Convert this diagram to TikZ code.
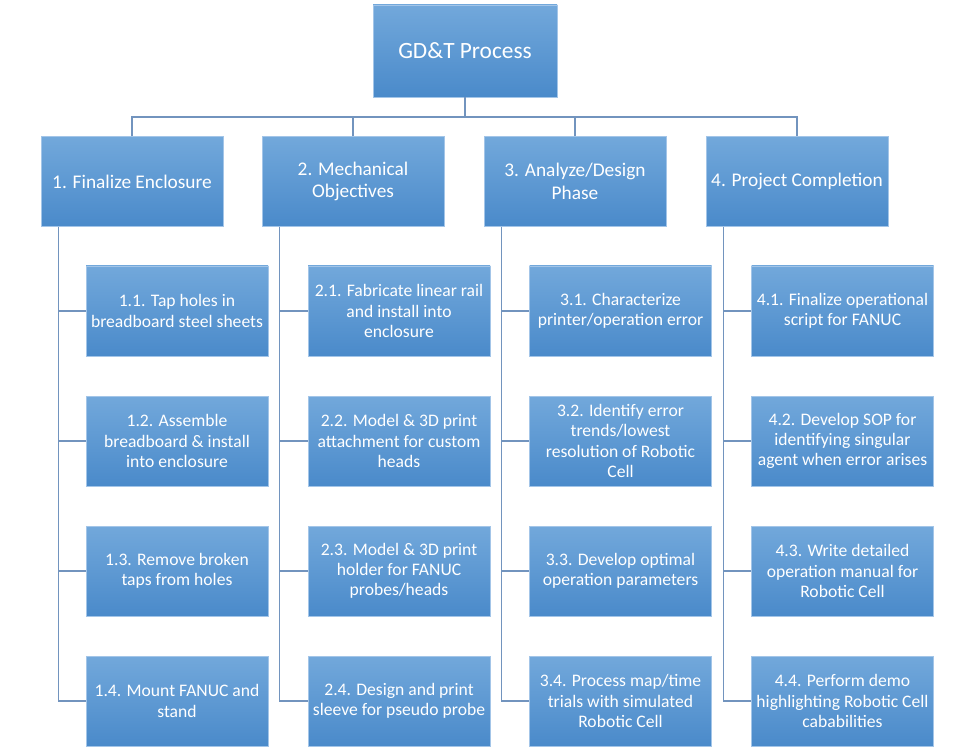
\documentclass[tikz,border=0pt]{standalone}
\usepackage{fontspec}
\setmainfont{Carlito}
\usetikzlibrary{calc}
\definecolor{boxtop}{HTML}{72A8DB}
\definecolor{boxbot}{HTML}{4A8ACA}
\definecolor{boxedge}{HTML}{A3C5E8}
\definecolor{linkc}{HTML}{7294BE}
\tikzset{
  box/.style={draw=boxedge, line width=0.6pt, top color=boxtop, bottom color=boxbot,
    text=white, align=center, inner sep=1pt},
  topbox/.style={box, minimum width=138pt, minimum height=69pt, font=\fontsize{17.5}{21}\selectfont},
  lvlbox/.style={box, minimum width=136.5pt, minimum height=67pt, font=\fontsize{14.5}{17}\selectfont},
  subbox/.style={box, minimum width=136.5pt, minimum height=67.5pt, font=\fontsize{13.2}{15.2}\selectfont},
  link/.style={draw=linkc, line width=1.2pt},
}
\begin{document}
\begin{tikzpicture}[x=0.75pt,y=-0.75pt]
\useasboundingbox (0,0) rectangle (956,755);
\node[topbox] (top) at (465,51) {GD\&T Process};
\node[lvlbox] (l1) at (132,181.5) {1. Finalize Enclosure};
\node[lvlbox] (l2) at (353,181.5) {2. Mechanical\\Objectives};
\node[lvlbox] (l3) at (575,181.5) {3. Analyze/Design\\Phase};
\node[lvlbox] (l4) at (797,181.5) {4. Project Completion};

\node[subbox] (c11) at (177,311) {1.1. Tap holes in\\breadboard steel sheets};
\node[subbox] (c12) at (177,441) {1.2. Assemble\\breadboard \& install\\into enclosure};
\node[subbox] (c13) at (177,571) {1.3. Remove broken\\taps from holes};
\node[subbox] (c14) at (177,701) {1.4. Mount FANUC and\\stand};

\node[subbox] (c21) at (399,311) {2.1. Fabricate linear rail\\and install into\\enclosure};
\node[subbox] (c22) at (399,441) {2.2. Model \& 3D print\\attachment for custom\\heads};
\node[subbox] (c23) at (399,571) {2.3. Model \& 3D print\\holder for FANUC\\probes/heads};
\node[subbox] (c24) at (399,701) {2.4. Design and print\\sleeve for pseudo probe};

\node[subbox] (c31) at (620.5,311) {3.1. Characterize\\printer/operation error};
\node[subbox] (c32) at (620.5,441) {3.2. Identify error\\trends/lowest\\resolution of Robotic\\Cell};
\node[subbox] (c33) at (620.5,571) {3.3. Develop optimal\\operation parameters};
\node[subbox] (c34) at (620.5,701) {3.4. Process map/time\\trials with simulated\\Robotic Cell};

\node[subbox] (c41) at (842.5,311) {4.1. Finalize operational\\script for FANUC};
\node[subbox] (c42) at (842.5,441) {4.2. Develop SOP for\\identifying singular\\agent when error arises};
\node[subbox] (c43) at (842.5,571) {4.3. Write detailed\\operation manual for\\Robotic Cell};
\node[subbox] (c44) at (842.5,701) {4.4. Perform demo\\highlighting Robotic Cell\\cababilities};

\coordinate (bus) at (465,117);
\draw[link] (top.south) -- (bus);
\draw[link] (l1.north) |- (bus) -| (l4.north);
\draw[link] (l2.north) -- (l2.north |- bus);
\draw[link] (l3.north) -- (l3.north |- bus);

\foreach \i in {1,2,3,4}{
  \coordinate (s\i) at ($(l\i.south west)+(13.5pt,0)$);
  \draw[link] (s\i) |- (c\i4.west);
  \foreach \j in {1,2,3}{
    \draw[link] (s\i |- c\i\j.west) -- (c\i\j.west);
  }
}
\end{tikzpicture}
\end{document}
